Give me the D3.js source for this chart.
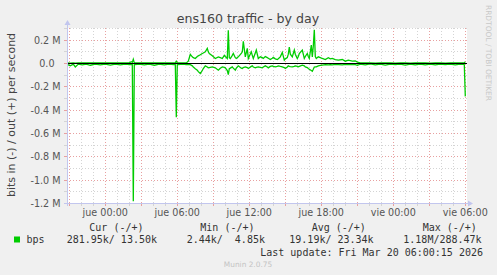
<!DOCTYPE html>
<html>
<head>
<meta charset="utf-8">
<script src="https://cdn.jsdelivr.net/npm/d3@7/dist/d3.min.js"></script>
<style>
body {margin:0; background:#f0f0f0}
svg {display:block}
text {font-family:"DejaVu Sans", sans-serif}
.mono {font-family:"DejaVu Sans Mono", monospace; font-size:10px; fill:#333; white-space:pre}
</style>
</head>
<body>
<svg id="chart" width="497" height="275"></svg>
<script>
/*** Data (minutes relative to jue 00:00, values in kbit/s) ***/
const minutes = [-190,-175,-160,-150,-135,-115,-95,-75,-50,-25,0,25,50,75,100,120,130,135,140,145,150,170,
	195,220,245,270,295,320,340,350,355,360,365,385,405,415,425,435,440,450,460,465,475,485,
	490,500,510,515,520,535,550,565,575,585,595,600,610,615,620,625,635,640,650,655,665,
	680,685,690,700,710,715,730,735,740,750,755,765,775,785,790,800,810,815,825,835,
	840,850,860,865,875,885,895,900,910,915,920,925,935,945,950,960,965,970,985,995,
	1000,1010,1015,1020,1030,1035,1040,1045,1050,1055,1065,1075,1085,1100,1115,1125,1135,1150,1165,1185,1200,
	1215,1235,1250,1260,1275,1300,1325,1350,1375,1400,1425,1450,1475,1500,1525,1550,1575,1600,1625,1650,
	1675,1700,1725,1750,1775,1790,1795,1800]

const outK = [5,4,5,4,5,6,5,5,5,5,5,6,5,5,5,5,15,10,37,6,6,5,
	5,5,5,5,5,5,5,5,20,6,6,5,5,20,78,57,50,43,60,66,75,86,
	90,100,130,100,86,66,43,57,50,43,70,60,43,285,50,43,70,86,50,43,57,
	86,100,190,57,130,43,100,70,43,90,115,43,57,50,43,60,50,45,34,45,
	52,40,34,40,57,95,29,40,50,80,140,80,57,115,80,43,60,86,115,43,
	60,86,60,43,158,57,150,288.47,60,43,57,50,43,34,50,40,43,34,29,34,20,
	29,20,23,12,6,5,5,4,6,5,5,4,5,5,4,5,5,5,4,5,
	5,4,5,5,5,6,8,13.5]

const inK = [8,20,6,30,5,12,5,15,6,12,5,14,6,12,5,10,10,10,1180,8,10,5,
	12,6,15,5,12,6,10,8,460,8,10,6,10,10,10,20,30,45,57,70,86,60,
	43,20,30,37,35,29,37,57,40,29,33,37,60,95,45,40,29,40,57,40,20,
	40,43,35,29,35,43,25,20,30,37,33,29,33,37,30,20,30,37,25,20,
	25,29,24,20,25,29,35,43,30,20,25,27,29,25,20,25,29,25,14,20,
	29,35,43,50,60,66,50,30,29,29,20,17,14,9,12,10,12,8,10,12,8,
	10,7,10,15,5,12,3,12,5,14,5,10,5,13,5,12,5,11,5,12,
	5,10,5,12,5,8,10,281.95]

const xTickMinutes = [0,360,720,1080,1440,1800]
const xTickLabels = ["jue 00:00","jue 06:00","jue 12:00","jue 18:00","vie 00:00","vie 06:00"]
const yTickValues = [-1.2e6,-1.0e6,-0.8e6,-0.6e6,-0.4e6,-0.2e6,0,0.2e6]
const yTickLabels = ["-1.2 M","-1.0 M","-0.8 M","-0.6 M","-0.4 M","-0.2 M","0.0","0.2 M"]
const legendHeads = ["Cur (-/+)","Min (-/+)","Avg (-/+)","Max (-/+)"]
const legendVals = ["281.95k/ 13.50k","2.44k/  4.85k","19.19k/ 23.34k","1.18M/288.47k"]

/*** Draw ***/
const svg = d3.select("#chart")
const x = d3.scaleLinear().domain([-191.5, 1808.5]).range([67, 467])
const y = d3.scaleLinear().domain([-1.2e6, 0.3e6]).range([203.5, 28.5])
const px = (v) => Math.round(x(v)) + 0.5
const py = (v) => Math.round(y(v) - 0.5) + 0.5

const MINOR = "#d4d4d4", MAJOR = "#e8a0a0", AXIS = "#c2c6ee", GREEN = "#00cc00"

svg.append("rect")
   .attr("x", 67).attr("y", 28).attr("width", 400).attr("height", 176)
   .attr("fill", "#fff")

// vertical grid, one line per hour, red every 3 hours
const hours = d3.range(-180, 1809, 60)
const g = svg.append("g").attr("stroke-width", 1).attr("stroke-dasharray", "1,2")
g.selectAll("line.v")
 .data(hours)
 .enter()
 .append("line")
 .attr("x1", px).attr("x2", px)
 .attr("y1", 28).attr("y2", 204)
 .attr("stroke", (m) => (m % 180 == 0) ? MAJOR : MINOR)

// horizontal grid, every 0.1 M, red every 0.2 M
const levels = d3.range(-11, 4).map((i) => i * 1e5)
g.selectAll("line.h")
 .data(levels)
 .enter()
 .append("line")
 .attr("y1", py).attr("y2", py)
 .attr("x1", 67).attr("x2", 467)
 .attr("stroke", (v) => (Math.round(v / 1e5) % 2 == 0) ? MAJOR : MINOR)

// little tick marks outside the axes
svg.append("g").selectAll("line")
   .data(hours)
   .enter()
   .append("line")
   .attr("x1", px).attr("x2", px)
   .attr("y1", 204).attr("y2", 206)
   .attr("stroke", (m) => (m % 180 == 0) ? MAJOR : MINOR)
svg.append("g").selectAll("line")
   .data(d3.range(-12, 4).map((i) => i * 1e5))
   .enter()
   .append("line")
   .attr("y1", py).attr("y2", py)
   .attr("x1", 64).attr("x2", 67)
   .attr("stroke", (v) => (Math.round(v / 1e5) % 2 == 0) ? MAJOR : MINOR)

// data lines
const pts = minutes.map((m, i) => ({m: m, o: outK[i] * 1e3, n: -inK[i] * 1e3}))
const lo = d3.line().x((d) => x(d.m)).y((d) => y(d.o))
const li = d3.line().x((d) => x(d.m)).y((d) => y(d.n))
svg.append("path").attr("d", li(pts)).attr("fill", "none")
   .attr("stroke", GREEN).attr("stroke-width", 1.3)
svg.append("path").attr("d", lo(pts)).attr("fill", "none")
   .attr("stroke", GREEN).attr("stroke-width", 1.3)

// zero rule
svg.append("line")
   .attr("x1", 67).attr("x2", 467)
   .attr("y1", y(0)).attr("y2", y(0))
   .attr("stroke", "#000").attr("stroke-width", 1)

// axes with arrows
svg.append("line").attr("x1", 64).attr("x2", 469).attr("y1", 203.5).attr("y2", 203.5)
   .attr("stroke", AXIS)
svg.append("path").attr("d", "M468,200.5 L473,203.5 L468,206.5 Z").attr("fill", AXIS)
svg.append("line").attr("x1", 67.5).attr("x2", 67.5).attr("y1", 206).attr("y2", 24)
   .attr("stroke", AXIS)
svg.append("path").attr("d", "M64.5,25 L67.5,20 L70.5,25 Z").attr("fill", AXIS)

// tick labels
svg.append("g").selectAll("text")
   .data(xTickMinutes)
   .enter()
   .append("text")
   .attr("x", (m) => x(m)).attr("y", 216)
   .attr("text-anchor", "middle")
   .attr("font-size", "9.6px").attr("fill", "#555")
   .text((m, i) => xTickLabels[i])
svg.append("g").selectAll("text")
   .data(yTickValues)
   .enter()
   .append("text")
   .attr("x", (v, i) => yTickLabels[i].endsWith("M") ? 60.5 : 54.5)
   .attr("y", (v) => y(v) + 3.6)
   .attr("text-anchor", "end")
   .attr("font-size", "9.6px").attr("fill", "#555")
   .text((v, i) => yTickLabels[i])

// titles
svg.append("text").attr("x", 248).attr("y", 22.5).attr("text-anchor", "middle")
   .attr("font-size", "12.6px").attr("fill", "#444")
   .text("ens160 traffic - by day")
svg.append("text").attr("transform", "translate(15,115) rotate(-90)")
   .attr("text-anchor", "middle").attr("font-size", "11px").attr("fill", "#444")
   .text("bits in (-) / out (+) per second")
svg.append("text").attr("transform", "translate(485.5,5) rotate(90)")
   .attr("font-size", "7.5px").attr("fill", "#c8c8c8")
   .attr("textLength", 96).attr("lengthAdjust", "spacingAndGlyphs")
   .text("RRDTOOL / TOBI OETIKER")

// legend
const headX = [89.3, 200.3, 311.7, 422.7]
const valX = [66.7, 186.7, 289.3, 403.3]
svg.append("g").selectAll("text")
   .data(legendHeads)
   .enter()
   .append("text").attr("class", "mono")
   .attr("x", (d, i) => headX[i]).attr("y", 231)
   .text((d) => d)
svg.append("g").selectAll("text")
   .data(legendVals)
   .enter()
   .append("text").attr("class", "mono")
   .attr("x", (d, i) => valX[i]).attr("y", 243)
   .text((d) => d)
svg.append("rect").attr("x", 14).attr("y", 236.5).attr("width", 6).attr("height", 6)
   .attr("fill", GREEN)
svg.append("text").attr("class", "mono").attr("x", 26.5).attr("y", 243).text("bps")
svg.append("text").attr("class", "mono").attr("x", 483).attr("y", 255.5)
   .attr("text-anchor", "end")
   .text("Last update: Fri Mar 20 06:00:15 2026")
svg.append("text").attr("x", 248).attr("y", 266.5).attr("text-anchor", "middle")
   .attr("font-size", "7.4px").attr("fill", "#c4c4c4")
   .text("Munin 2.0.75")
</script>
</body>
</html>
